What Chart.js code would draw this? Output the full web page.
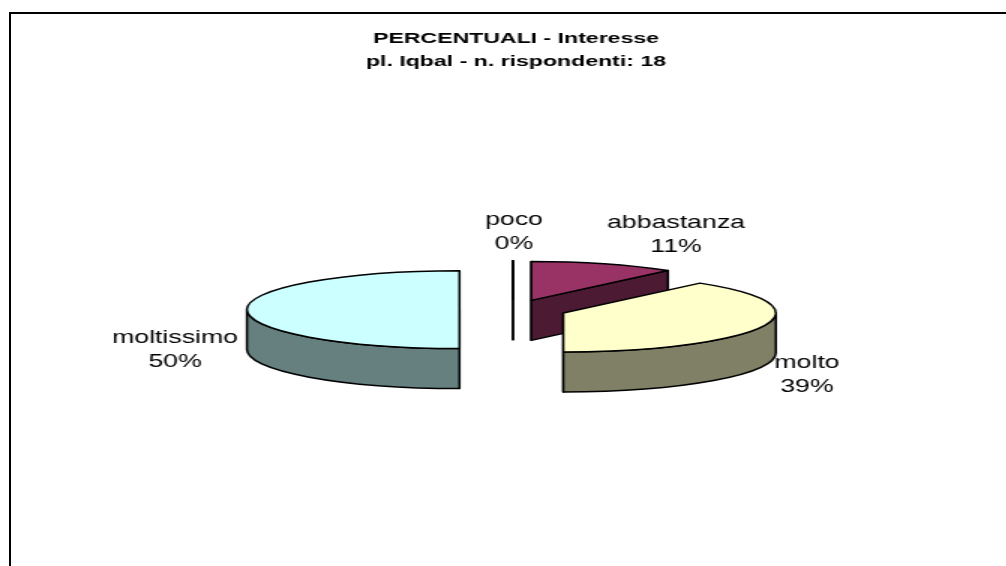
<!DOCTYPE html>
<html>
<head>
<meta charset="utf-8">
<title>PERCENTUALI - Interesse</title>
<script src="https://cdn.jsdelivr.net/npm/chart.js@4/dist/chart.umd.js"></script>
<style>
  html, body { margin: 0; padding: 0; background: #fff; overflow: hidden; }
  #frame { position: absolute; left: 9px; top: 12px; right: 0; bottom: 0; border-top: 2px solid #000; border-left: 2px solid #000; }
  /* the original picture is stretched sideways, text included */
  #chart { position: absolute; left: 0; top: 0; transform: scaleX(1.5); transform-origin: 0 0; }
</style>
</head>
<body>
<div id="frame"></div>
<canvas id="chart" width="671" height="566"></canvas>
<script>
const categories = ['poco', 'abbastanza', 'molto', 'moltissimo'];
const respondents = [0, 2, 7, 9];
const percentLabels = ['0%', '11%', '39%', '50%'];
const topColors = ['#FF8080', '#993366', '#FFFFCC', '#CCFFFF'];
const sideColors = ['#804040', '#4D1A33', '#808066', '#668080'];
const titleLines = ['PERCENTUALI - Interesse', 'pl. Iqbal - n. rispondenti: 18'];

const pie3d = {
  id: 'pie3d',
  beforeDatasetsDraw(chart, args, opts) {
    const ctx = chart.ctx;
    ctx.save();
    ctx.lineWidth = opts.lineWidth;
    ctx.strokeStyle = '#000';
    ctx.lineJoin = 'round';
    chart.getDatasetMeta(0).data.forEach((arc, i) => {
      const { x, y, startAngle, endAngle, outerRadius: r } = arc.getProps(['x', 'y', 'startAngle', 'endAngle', 'outerRadius'], true);
      const mid = (startAngle + endAngle) / 2;
      const cx = x + opts.shiftX + Math.cos(mid) * opts.explode;
      const cy = y + Math.sin(mid) * opts.explode * opts.tilt;
      const ry = r * opts.tilt;

      // side walls first, the flat top goes over them
      ctx.fillStyle = sideColors[i];
      [[startAngle, -Math.PI / 2], [endAngle, Math.PI / 2]].forEach(([a, turn]) => {
        if (Math.sin(a + turn) < -1e-9) return;
        ctx.beginPath();
        ctx.moveTo(cx, cy);
        ctx.lineTo(cx + Math.cos(a) * r, cy + Math.sin(a) * ry);
        ctx.lineTo(cx + Math.cos(a) * r, cy + Math.sin(a) * ry + opts.depth);
        ctx.lineTo(cx, cy + opts.depth);
        ctx.closePath();
        ctx.fill();
        ctx.stroke();
      });
      const a0 = Math.max(startAngle, 0);
      const a1 = Math.min(endAngle, Math.PI);
      if (a1 > a0) {
        ctx.beginPath();
        ctx.ellipse(cx, cy, r, ry, 0, a0, a1);
        ctx.ellipse(cx, cy + opts.depth, r, ry, 0, a1, a0, true);
        ctx.closePath();
        ctx.fill();
        ctx.stroke();
      }

      ctx.fillStyle = topColors[i];
      ctx.beginPath();
      ctx.moveTo(cx, cy);
      ctx.ellipse(cx, cy, r, ry, 0, startAngle, endAngle);
      ctx.closePath();
      ctx.fill();
      ctx.stroke();
    });
    ctx.restore();
    // the native flat arcs stay undrawn
    return false;
  },
  afterDraw(chart, args, opts) {
    const ctx = chart.ctx;
    ctx.save();
    ctx.font = opts.labelFont;
    ctx.fillStyle = '#000';
    ctx.textAlign = 'center';
    ctx.textBaseline = 'middle';
    categories.forEach((name, i) => {
      const [lx, ly] = opts.labelAt[i];
      ctx.fillText(name, lx, ly);
      ctx.fillText(percentLabels[i], lx, ly + opts.labelLine);
    });
    ctx.restore();
  }
};

new Chart(document.getElementById('chart'), {
  type: 'pie',
  plugins: [pie3d],
  data: {
    labels: categories,
    datasets: [{
      data: respondents,
      backgroundColor: topColors,
      borderWidth: 0,
      radius: 141.7
    }]
  },
  options: {
    responsive: false,
    animation: false,
    layout: { padding: { left: 17, bottom: 20 } },
    plugins: {
      legend: { display: false },
      tooltip: { enabled: false },
      title: {
        display: true,
        text: titleLines,
        color: '#000',
        font: { family: '"Liberation Sans", Arial, sans-serif', size: 15.4, weight: 'bold', lineHeight: 1.5 },
        padding: { top: 27, bottom: 0 }
      },
      pie3d: {
        tilt: 0.275,
        depth: 40,
        explode: 35.7,
        shiftX: -2,
        lineWidth: 1.5,
        labelFont: '17.8px "Liberation Sans", Arial, sans-serif',
        labelLine: 24.5,
        labelAt: [[342.7, 220], [450.7, 223], [538, 363], [116.7, 338]]
      }
    }
  }
});
</script>
</body>
</html>
